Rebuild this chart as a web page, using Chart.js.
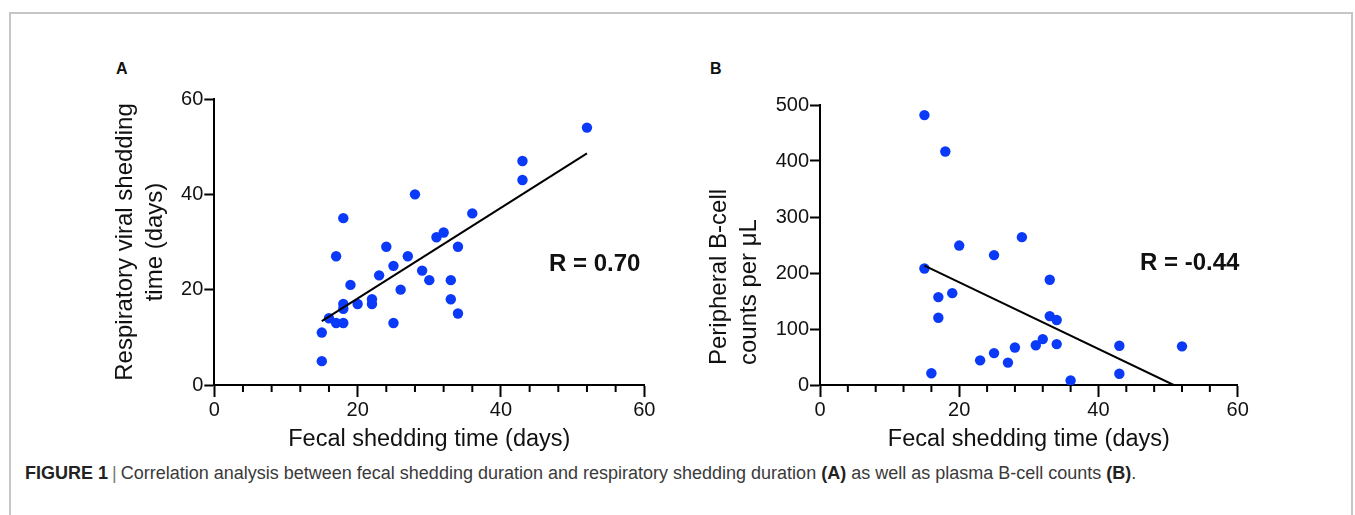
<!DOCTYPE html>
<html>
<head>
<meta charset="utf-8">
<script src="https://cdn.jsdelivr.net/npm/chart.js@4.4.1/dist/chart.umd.min.js"></script>
<style>
  html, body { margin: 0; padding: 0; background: #fff; }
  body { width: 1355px; height: 515px; position: relative; overflow: hidden;
         font-family: "Liberation Sans", Arial, Helvetica, sans-serif; }
  .frame { position: absolute; left: 9px; top: 12px; width: 1344px; height: 600px;
           border: 2px solid #c6c6c6; box-sizing: border-box; }
  .wrap { position: absolute; }
  .panel-tag { position: absolute; font-weight: bold; font-size: 16px; color: #111; line-height: 1; }
  .rlabel { position: absolute; font-weight: bold; font-size: 24px; color: #111; line-height: 1; white-space: nowrap; }
  .caption { position: absolute; left: 25px; top: 463px; font-size: 18px; color: #3a3a3a; white-space: nowrap; }
  .caption b { color: #222; }
  .caption .bar { color: #777; padding: 0 4px; }
</style>
</head>
<body>
<div class="frame"></div>

<div class="panel-tag" style="left:116px; top:61px;">A</div>
<div class="panel-tag" style="left:710px; top:61px;">B</div>

<div class="wrap" style="left:100px; top:55px; width:570px; height:405px;"><canvas id="chartA"></canvas></div>
<div class="wrap" style="left:700px; top:55px; width:565px; height:405px;"><canvas id="chartB"></canvas></div>

<div class="rlabel" style="left:549px; top:251px;">R = 0.70</div>
<div class="rlabel" style="left:1140px; top:250px;">R = -0.44</div>

<div class="caption"><b>FIGURE 1</b><span class="bar">|</span>Correlation analysis between fecal shedding duration and respiratory shedding duration <b>(A)</b> as well as plasma B-cell counts <b>(B)</b>.</div>

<script>
// 面板 A：粪便排毒时间 vs 呼吸道排毒时间
const aFecal = [52, 43, 43, 28, 18, 36, 32, 31, 34, 24, 17, 27, 25, 23, 29, 30, 33, 19, 26, 22, 22, 33, 18, 20, 18, 34, 16, 17, 18, 25, 15, 15];
const aResp  = [54, 47, 43, 40, 35, 36, 32, 31, 29, 29, 27, 27, 25, 23, 24, 22, 22, 21, 20, 18, 17, 18, 17, 17, 16, 15, 14, 13, 13, 13, 11, 5];
const aFitX = [15, 52];
const aFitY = [13.4, 48.6];

// 面板 B：粪便排毒时间 vs 外周 B 细胞计数
const bFecal = [15, 18, 29, 20, 25, 15, 33, 19, 17, 17, 33, 34, 32, 31, 34, 28, 25, 23, 27, 43, 52, 43, 16, 36];
const bCells = [482, 417, 264, 249, 232, 208, 188, 164, 157, 120, 123, 116, 82, 71, 73, 67, 57, 44, 40, 70, 69, 20, 21, 8];
const bFitX = [15, 50.8];
const bFitY = [213, 0];

const xTicks = [0, 20, 40, 60];
const aYTicks = [0, 20, 40, 60];
const bYTicks = [0, 100, 200, 300, 400, 500];

const FONT = '"Liberation Sans", Arial, Helvetica, sans-serif';
const DOT = '#0a3af8';

// x 轴小刻度（每 4 天一个）
const MinorTicksPlugin = {
  id: 'minorTicks',
  afterDraw(chart, args, opts) {
    const sx = chart.scales.x;
    const { ctx, chartArea } = chart;
    ctx.save();
    ctx.strokeStyle = '#000';
    ctx.lineWidth = 2;
    for (let v = sx.min; v <= sx.max; v += opts.step) {
      if (v % opts.major === 0) continue;
      const px = sx.getPixelForValue(v);
      ctx.beginPath();
      ctx.moveTo(px, chartArea.bottom);
      ctx.lineTo(px, chartArea.bottom + opts.length);
      ctx.stroke();
    }
    ctx.restore();
  }
};

// 左对齐的 y 轴标题（B 图两行从底部起排）
const StartTitlePlugin = {
  id: 'startTitle',
  afterDraw(chart, args, opts) {
    if (!opts || !opts.lines) return;
    const { ctx, chartArea } = chart;
    ctx.save();
    ctx.fillStyle = '#111';
    ctx.font = `${opts.size}px ${FONT}`;
    ctx.textAlign = 'left';
    ctx.textBaseline = 'middle';
    opts.lines.forEach((line, i) => {
      ctx.save();
      ctx.translate(opts.x + i * opts.lineGap, chartArea.bottom - opts.raise);
      ctx.rotate(-Math.PI / 2);
      ctx.fillText(line, 0, 0);
      ctx.restore();
    });
    ctx.restore();
  }
};

const pts = (xs, ys) => xs.map((x, i) => ({ x, y: ys[i] }));

function makeChart(canvas, cfg) {
  return new Chart(canvas, {
    type: 'scatter',
    data: {
      datasets: [
        {
          type: 'line',
          data: pts(cfg.fitX, cfg.fitY),
          borderColor: '#000',
          borderWidth: 2,
          pointRadius: 0,
          fill: false,
          order: 0
        },
        {
          data: pts(cfg.xs, cfg.ys),
          backgroundColor: DOT,
          borderWidth: 0,
          pointRadius: 5.2,
          pointHoverRadius: 5.2,
          order: 1
        }
      ]
    },
    options: {
      responsive: true,
      maintainAspectRatio: false,
      animation: false,
      layout: { padding: { left: 0, top: cfg.padTop, right: cfg.padRight, bottom: 0 } },
      plugins: {
        legend: { display: false },
        tooltip: { enabled: false },
        minorTicks: { step: 4, major: 20, length: 7 },
        startTitle: cfg.startTitle || false
      },
      scales: {
        x: {
          type: 'linear',
          min: 0, max: 60,
          afterBuildTicks: s => { s.ticks = xTicks.map(v => ({ value: v })); },
          afterFit: s => { s.height = 75; },
          grid: { drawOnChartArea: false, drawTicks: true, tickLength: 12, tickColor: '#000', tickWidth: 2 },
          border: { display: true, color: '#000', width: 2 },
          ticks: { color: '#111', font: { family: FONT, size: 20 }, padding: 1, maxRotation: 0 },
          title: {
            display: true,
            text: 'Fecal shedding time (days)',
            color: '#111',
            font: { family: FONT, size: 23.5 },
            padding: { top: 0, bottom: 6 }
          }
        },
        y: {
          type: 'linear',
          min: 0, max: cfg.yMax,
          afterBuildTicks: s => { s.ticks = cfg.yTicks.map(v => ({ value: v })); },
          afterFit: s => { s.width = cfg.yWidth; },
          grid: { drawOnChartArea: false, drawTicks: true, tickLength: 10, tickColor: '#000', tickWidth: 2 },
          border: { display: true, color: '#000', width: 2 },
          ticks: { color: '#111', font: { family: FONT, size: 20 }, padding: 1 },
          title: {
            display: !!cfg.yTitle,
            text: cfg.yTitle || '',
            color: '#111',
            font: { family: FONT, size: 24, lineHeight: 1.25 },
            padding: { top: 10, bottom: 0 }
          }
        }
      }
    },
    plugins: [MinorTicksPlugin, StartTitlePlugin]
  });
}

makeChart(document.getElementById('chartA'), {
  xs: aFecal, ys: aResp, fitX: aFitX, fitY: aFitY,
  yMax: 60, yTicks: aYTicks,
  yTitle: ['Respiratory viral shedding', 'time (days)'],
  yWidth: 114.3, padTop: 44, padRight: 25.7
});

makeChart(document.getElementById('chartB'), {
  xs: bFecal, ys: bCells, fitX: bFitX, fitY: bFitY,
  yMax: 500, yTicks: bYTicks,
  startTitle: { lines: ['Peripheral B-cell', 'counts per \u03BCL'], size: 24, x: 19, lineGap: 30, raise: 20 },
  yWidth: 120, padTop: 50, padRight: 27.3
});
</script>
</body>
</html>
